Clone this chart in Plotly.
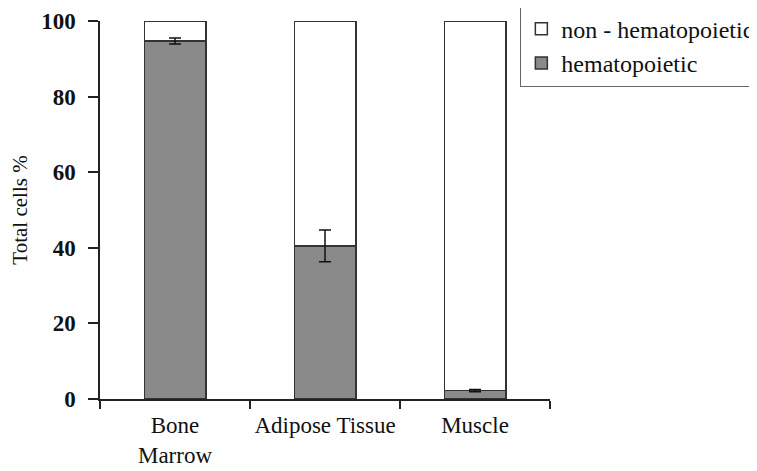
import plotly.graph_objects as go

categories = ["Bone<br>Marrow", "Adipose Tissue", "Muscle"]
hematopoietic = [94.7, 40.5, 2.2]
hemat_err = [0.8, 4.2, 0.3]
non_hematopoietic = [100 - v for v in hematopoietic]
y_ticks = [0, 20, 40, 60, 80, 100]

font_family = "'Liberation Serif', 'Times New Roman', Times, serif"

fig = go.Figure()
fig.add_trace(go.Bar(
    x=categories, y=hematopoietic, name="hematopoietic", legendgroup="h",
    marker=dict(color="#8a8a8a", line=dict(color="#333333", width=1.5)),
))
fig.add_trace(go.Bar(
    x=categories, y=non_hematopoietic, name="non - hematopoietic", legendgroup="n",
    marker=dict(color="#ffffff", line=dict(color="#333333", width=1.5)),
))
fig.add_trace(go.Scatter(
    x=categories, y=hematopoietic, mode="markers",
    marker=dict(size=1, opacity=0), showlegend=False, hoverinfo="skip",
    error_y=dict(type="data", array=hemat_err, color="#111111", thickness=1.5, width=6),
))

fig.update_layout(
    barmode="stack",
    bargap=0.59,
    width=749, height=463,
    margin=dict(l=92, r=207, t=13, b=72, autoexpand=False),
    plot_bgcolor="white", paper_bgcolor="white",
    font=dict(family=font_family, size=23, color="#111111"),
    showlegend=True,
    legend=dict(
        traceorder="reversed",
        x=0.933, y=1.042, xanchor="left", yanchor="top",
        bordercolor="#666666", borderwidth=1.5, bgcolor="white",
        font=dict(family=font_family, size=24, color="#111111"),
        itemwidth=30, tracegroupgap=16,
    ),
    xaxis=dict(
        range=[-0.5, 2.5],
        showline=True, linecolor="#222222", linewidth=1.5,
        ticks="outside", tickson="boundaries", ticklen=8, tickcolor="#222222", tickwidth=1.5,
        tickfont=dict(family=font_family, size=23, color="#111111"),
        tickangle=0,
        ticklabelstandoff=5,
        showgrid=False,
    ),
    yaxis=dict(
        range=[0, 100], tickvals=y_ticks,
        showline=True, linecolor="#222222", linewidth=1.5,
        ticks="outside", ticklen=10, tickcolor="#222222", tickwidth=1.5,
        tickfont=dict(family=font_family, size=23, color="#111111", weight="bold"),
        ticklabelstandoff=8,
        showgrid=False, zeroline=False,
        title=dict(text="Total cells %", font=dict(family=font_family, size=21, color="#111111"), standoff=10),
    ),
)

fig.write_html("out.html")
